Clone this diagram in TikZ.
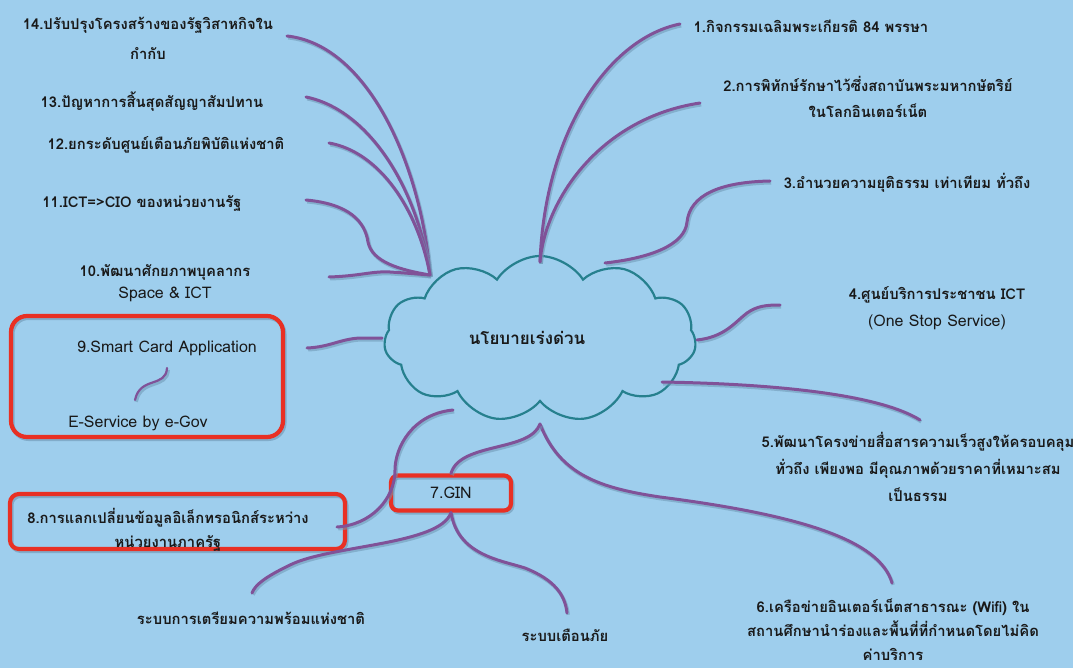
\documentclass[tikz,border=0pt]{standalone}
\usepackage{fontspec}
\setmainfont[Script=Thai]{Loma}
\usetikzlibrary{shapes.symbols}
\definecolor{bgc}{RGB}{158,206,237}
\definecolor{vio}{RGB}{128,82,152}
\definecolor{cloudc}{RGB}{38,128,142}
\definecolor{redb}{RGB}{232,48,36}
\definecolor{shd}{RGB}{110,150,180}
\begin{document}
\begin{tikzpicture}[x=1pt,y=-1pt,
  lbl/.style={font=\bfseries\fontsize{14.8}{27}\selectfont, align=center, inner sep=0pt, text=black!90},
  lat/.style={font=\fontsize{16}{27}\selectfont, align=center, inner sep=0pt, text=black!90},
  br/.style={draw=vio, line width=3pt, line cap=round,
    preaction={draw=shd, line width=3.4pt, opacity=0.55, transform canvas={shift={(1.2pt,-1.8pt)}}}},
  redbox/.style={draw=redb, line width=4.2pt, rounded corners=#1,
    preaction={draw=shd, line width=4pt, opacity=0.6, transform canvas={shift={(1.5pt,-2pt)}}}},
  redbox/.default=9pt]
\fill[bgc] (0,0) rectangle (1073,668);
\useasboundingbox (0,0) rectangle (1073,668);

% central cloud
\node[cloud, draw=cloudc, line width=2.2pt, cloud puffs=11, cloud puff arc=115,
      aspect=1.9, minimum width=312pt, minimum height=166pt, inner sep=0pt] (cl) at (540,339) {};
\node[lbl, font=\bfseries\fontsize{17}{20}\selectfont] (ctext) at (527,338) {นโยบายเร่งด่วน};

% cloud anchor points
\coordinate (cTL) at (430,275);
\coordinate (cTR) at (540,262);
\coordinate (cR3) at (605,263);
\coordinate (cR4) at (697,340);
\coordinate (cR5) at (662,382);
\coordinate (cB) at (540,424);
\coordinate (cBL) at (453,410);
\coordinate (cL) at (382,338);

% left labels
\node[lbl, font=\bfseries\fontsize{14.8}{30}\selectfont] (n14) at (148,38) {14.ปรับปรุงโครงสร้างของรัฐวิสาหกิจใน\\กำกับ};
\node[lbl] (n13) at (152,102) {13.ปัญหาการสิ้นสุดสัญญาสัมปทาน};
\node[lbl] (n12) at (166,145) {12.ยกระดับศูนย์เตือนภัยพิบัติแห่งชาติ};
\node[lbl] (n11) at (142,203) {11.ICT=>CIO ของหน่วยงานรัฐ};
\node[lbl] (n10) at (165,272) {10.พัฒนาศักยภาพบุคลากร};
\node[lat] (n10b) at (165,294) {Space \& ICT};

% box 9
\draw[redbox=16pt] (11,316) rectangle (283,437);
\node[lat] (n9) at (167,348) {9.Smart Card Application};
\node[lat] (n9b) at (138,423) {E-Service by e-Gov};
\coordinate (s9a) at (167,368);
\coordinate (s9b) at (135,400);

% box 8
\draw[redbox=9pt] (10,494) rectangle (345,549);
\node[lbl] (n8) at (168,518) {8.การแลกเปลี่ยนข้อมูลอิเล็กทรอนิกส์ระหว่าง};
\node[lbl] (n8b) at (168,543) {หน่วยงานภาครัฐ};

% GIN
\node[lat, draw=redb, line width=4.2pt, rounded corners=7pt, minimum width=120pt, minimum height=35pt,
      preaction={draw=shd, line width=4pt, opacity=0.6, transform canvas={shift={(1.5pt,-2pt)}}}] (gin) at (451,493) {7.GIN};
\node[lbl] (g1) at (251,618) {ระบบการเตรียมความพร้อมแห่งชาติ};
\node[lbl] (g2) at (565,635) {ระบบเตือนภัย};

% right labels
\node[lbl] (n1) at (811,26) {1.กิจกรรมเฉลิมพระเกียรติ 84 พรรษา};
\node[lbl, font=\bfseries\fontsize{14.8}{26}\selectfont] (n2) at (868,97) {2.การพิทักษ์รักษาไว้ซึ่งสถาบันพระมหากษัตริย์\\ในโลกอินเตอร์เน็ต};
\node[lbl] (n3) at (907,183) {3.อำนวยความยุติธรรม เท่าเทียม ทั่วถึง};
\node[lbl] (n4) at (937,295) {4.ศูนย์บริการประชาชน ICT};
\node[lat] (n4b) at (937,322) {(One Stop Service)};
\node[lbl] (n5) at (918,467) {5.พัฒนาโครงข่ายสื่อสารความเร็วสูงให้ครอบคลุม\\ทั่วถึง เพียงพอ มีคุณภาพด้วยราคาที่เหมาะสม\\เป็นธรรม};
\node[lbl, font=\bfseries\fontsize{14.8}{24}\selectfont] (n6) at (893,630) {6.เครือข่ายอินเตอร์เน็ตสาธารณะ (Wifi) ใน\\สถานศึกษานำร่องและพื้นที่ที่กำหนดโดยไม่คิด\\ค่าบริการ};

% free ends of connectors
\coordinate (e14) at (287,36);
\coordinate (e13) at (306,97);
\coordinate (e12) at (329,143);
\coordinate (e11) at (306,200);
\coordinate (e10) at (329,277);
\coordinate (e9) at (307,348);
\coordinate (e8) at (337,527);
\coordinate (e1) at (680,24);
\coordinate (e2) at (700,103);
\coordinate (e3) at (770,181);
\coordinate (e4) at (780,305);
\coordinate (e5) at (920,420);
\coordinate (e6) at (892,583);
\coordinate (eg1) at (252,593);
\coordinate (eg2) at (567,613);

% connectors
\draw[br] (e14) .. controls (370,45) and (422,170) .. (cTL);
\draw[br] (e13) .. controls (370,110) and (418,190) .. (cTL);
\draw[br] (e12) .. controls (380,152) and (418,210) .. (cTL);
\draw[br] (e11) .. controls (350,204) and (365,222) .. (368,242) .. controls (372,262) and (400,270) .. (cTL);
\draw[br] (e10) .. controls (360,276) and (372,271) .. (390,272) .. controls (405,273) and (418,274) .. (cTL);
\draw[br] (e9) .. controls (330,347) and (340,339) .. (360,338) -- (cL);
\draw[br, line width=2.2pt] (s9a) .. controls (166,388) and (140,376) .. (s9b);

\draw[br] (cTR) .. controls (545,130) and (610,38) .. (e1);
\draw[br] (cTR) .. controls (545,200) and (600,118) .. (e2);
\draw[br] (cR3) .. controls (650,258) and (685,245) .. (687,222) .. controls (690,195) and (720,182) .. (e3);
\draw[br] (cR4) .. controls (725,337) and (735,322) .. (747,313) .. controls (757,306) and (766,305) .. (e4);
\draw[br] (cR5) .. controls (780,384) and (880,395) .. (e5);
\draw[br] (cB) .. controls (560,475) and (600,488) .. (660,497) .. controls (800,515) and (880,540) .. (e6);
\draw[br] (cB) .. controls (530,452) and (460,442) .. (gin.north);
\draw[br] (cBL) .. controls (412,414) and (395,448) .. (395,470) .. controls (395,500) and (370,525) .. (e8);
\draw[br] (gin.south) .. controls (440,545) and (330,545) .. (290,565) .. controls (265,577) and (255,585) .. (eg1);
\draw[br] (gin.south) .. controls (458,555) and (500,560) .. (525,568) .. controls (555,580) and (565,595) .. (eg2);
\end{tikzpicture}
\end{document}
